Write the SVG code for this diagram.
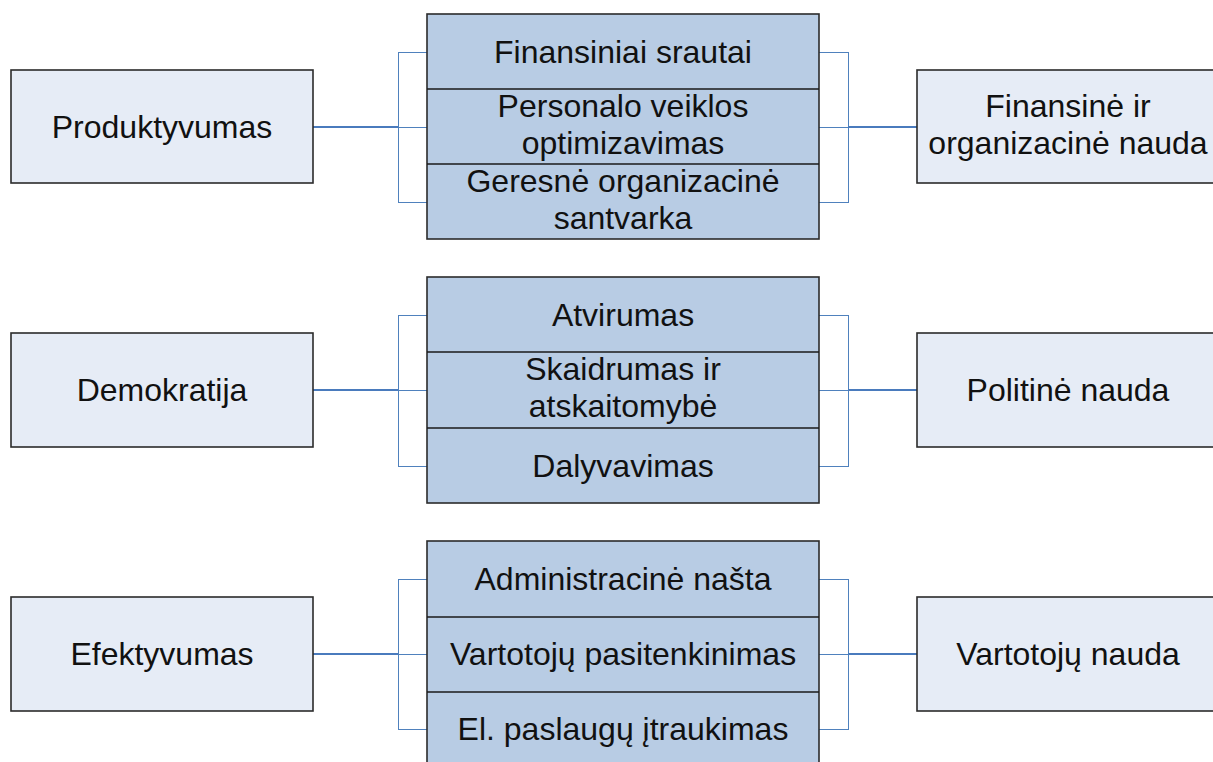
<svg xmlns="http://www.w3.org/2000/svg" width="1213" height="762" viewBox="0 0 1213 762">
  <style>
    .side { fill: #e6ecf6; stroke: #2b2b2b; stroke-width: 1.6; }
    .mid { fill: #b8cce4; stroke: #2b2b2b; stroke-width: 1.6; }
    .sep { stroke: #1a1a1a; stroke-width: 1.3; }
    .lbl { font-family: "Liberation Sans", Arial, sans-serif; font-size: 32px; fill: #111; text-anchor: middle; }
    .brk { fill: none; stroke: #4f81bd; stroke-width: 1; shape-rendering: crispEdges; }
    .link { fill: none; stroke: #4a7bbd; stroke-width: 2; }
  </style>
  <rect width="1213" height="762" fill="#ffffff"/>

  <!-- connectors: bracket spines, ticks and links -->
  <g id="connectors">
    <!-- row 1 -->
    <path class="brk" d="M427 52 H398 V202 H427 M398 127 H427"/>
    <path class="brk" d="M819 52 H848 V202 H819 M819 127 H848"/>
    <path class="link" d="M313 127 H398"/>
    <path class="link" d="M848 127 H917"/>
    <!-- row 2 -->
    <path class="brk" d="M427 315 H398 V466 H427 M398 390 H427"/>
    <path class="brk" d="M819 315 H848 V466 H819 M819 390 H848"/>
    <path class="link" d="M313 390 H398"/>
    <path class="link" d="M848 390 H917"/>
    <!-- row 3 -->
    <path class="brk" d="M427 579 H398 V729 H427 M398 654 H427"/>
    <path class="brk" d="M819 579 H848 V729 H819 M819 654 H848"/>
    <path class="link" d="M313 654 H398"/>
    <path class="link" d="M848 654 H917"/>
  </g>

  <!-- row 1 -->
  <g id="produktyvumas">
    <rect class="side" x="11" y="70" width="302" height="113"/>
    <text class="lbl" x="162" y="138">Produktyvumas</text>
  </g>
  <g id="grupe-produktyvumas">
    <rect class="mid" x="427" y="14" width="392" height="225"/>
    <line class="sep" x1="427" y1="89" x2="819" y2="89"/>
    <line class="sep" x1="427" y1="164" x2="819" y2="164"/>
    <text class="lbl" x="623" y="63">Finansiniai srautai</text>
    <text class="lbl" x="623" y="117">Personalo veiklos</text>
    <text class="lbl" x="623" y="154">optimizavimas</text>
    <text class="lbl" x="623" y="192">Geresnė organizacinė</text>
    <text class="lbl" x="623" y="229">santvarka</text>
  </g>
  <g id="finansine-nauda">
    <rect class="side" x="917" y="70" width="302" height="113"/>
    <text class="lbl" x="1068" y="117">Finansinė ir</text>
    <text class="lbl" x="1068" y="154">organizacinė nauda</text>
  </g>

  <!-- row 2 -->
  <g id="demokratija">
    <rect class="side" x="11" y="333" width="302" height="114"/>
    <text class="lbl" x="162" y="401">Demokratija</text>
  </g>
  <g id="grupe-demokratija">
    <rect class="mid" x="427" y="277" width="392" height="226"/>
    <line class="sep" x1="427" y1="352" x2="819" y2="352"/>
    <line class="sep" x1="427" y1="428" x2="819" y2="428"/>
    <text class="lbl" x="623" y="326">Atvirumas</text>
    <text class="lbl" x="623" y="380">Skaidrumas ir</text>
    <text class="lbl" x="623" y="417">atskaitomybė</text>
    <text class="lbl" x="623" y="477">Dalyvavimas</text>
  </g>
  <g id="politine-nauda">
    <rect class="side" x="917" y="333" width="302" height="114"/>
    <text class="lbl" x="1068" y="401">Politinė nauda</text>
  </g>

  <!-- row 3 -->
  <g id="efektyvumas">
    <rect class="side" x="11" y="597" width="302" height="114"/>
    <text class="lbl" x="162" y="665">Efektyvumas</text>
  </g>
  <g id="grupe-efektyvumas">
    <rect class="mid" x="427" y="541" width="392" height="226"/>
    <line class="sep" x1="427" y1="617" x2="819" y2="617"/>
    <line class="sep" x1="427" y1="692" x2="819" y2="692"/>
    <text class="lbl" x="623" y="590">Administracinė našta</text>
    <text class="lbl" x="623" y="665">Vartotojų pasitenkinimas</text>
    <text class="lbl" x="623" y="740">El. paslaugų įtraukimas</text>
  </g>
  <g id="vartotoju-nauda">
    <rect class="side" x="917" y="597" width="302" height="114"/>
    <text class="lbl" x="1068" y="665">Vartotojų nauda</text>
  </g>
</svg>
